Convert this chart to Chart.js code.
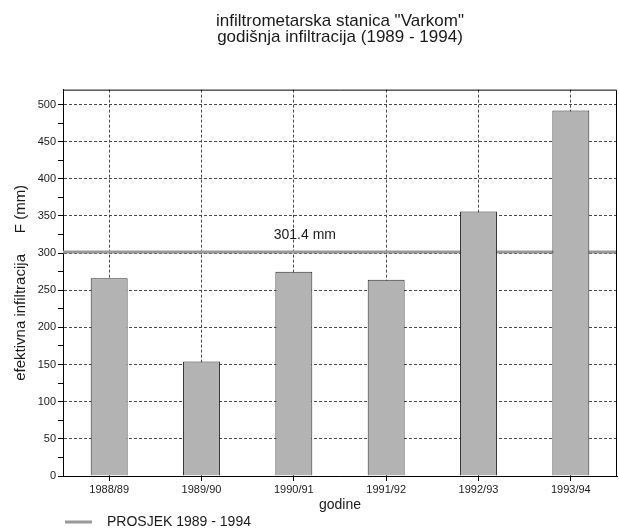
<!DOCTYPE html>
<html>
<head>
<meta charset="utf-8">
<script src="https://cdn.jsdelivr.net/npm/chart.js@4/dist/chart.umd.min.js"></script>
<style>
  html, body { margin: 0; padding: 0; background: #ffffff; }
  #wrap { width: 619px; height: 529px; }
</style>
</head>
<body>
<div id="wrap"><canvas id="infChart"></canvas></div>
<script>
// ------------------------------------------------------------
// Data — godišnja infiltracija, stanica "Varkom"
// ------------------------------------------------------------
var YEARS = ['1988/89', '1989/90', '1990/91', '1991/92', '1992/93', '1993/94'];
var INFILTRATION = [266, 154, 275, 264, 356, 492];
var MEAN = 301.4;
var MEAN_LABEL = '301.4 mm';
var LEGEND_LABEL = 'PROSJEK 1989 - 1994';
var TITLE_LINES = ['infiltrometarska stanica "Varkom"', 'godišnja infiltracija (1989 - 1994)'];

var COLORS = {
  text: '#1a1a1a',
  bar: '#b3b3b3',
  barBorder: '#2a2a2a',
  grid: '#4a4a4a',
  axis: '#000000',
  mean: '#999999'
};

var FONT = "'Liberation Sans', Arial, sans-serif";
Chart.defaults.font.family = FONT;
Chart.defaults.color = COLORS.text;

// ------------------------------------------------------------
// Plugins: frame, mean label, legend line
// ------------------------------------------------------------
var framePlugin = {
  id: 'frame',
  afterDraw: function(chart) {
    var a = chart.chartArea;
    var ctx = chart.ctx;
    ctx.save();
    ctx.strokeStyle = COLORS.axis;
    ctx.lineWidth = 1;
    ctx.beginPath();
    ctx.moveTo(a.left, a.top + 0.5);
    ctx.lineTo(a.right - 0.5, a.top + 0.5);
    ctx.lineTo(a.right - 0.5, a.bottom);
    ctx.stroke();
    ctx.restore();
  }
};

var meanLabelPlugin = {
  id: 'meanLabel',
  afterDatasetsDraw: function(chart) {
    var ctx = chart.ctx;
    var x = chart.scales.x.getPixelForValue(2) + 11;
    var y = chart.scales.y.getPixelForValue(MEAN) - 17;
    ctx.save();
    ctx.font = '14px ' + FONT;
    ctx.fillStyle = COLORS.text;
    ctx.textAlign = 'center';
    ctx.textBaseline = 'middle';
    ctx.fillText(MEAN_LABEL, x, y);
    ctx.restore();
  }
};

var legendPlugin = {
  id: 'meanLegend',
  afterDraw: function(chart) {
    var ctx = chart.ctx;
    var x0 = chart.chartArea.left + 2;
    var y = chart.height - 7;
    ctx.save();
    ctx.strokeStyle = COLORS.mean;
    ctx.lineWidth = 3;
    ctx.beginPath();
    ctx.moveTo(x0, y);
    ctx.lineTo(x0 + 27, y);
    ctx.stroke();
    ctx.font = '14px ' + FONT;
    ctx.fillStyle = COLORS.text;
    ctx.textAlign = 'left';
    ctx.textBaseline = 'middle';
    ctx.fillText(LEGEND_LABEL, x0 + 42, y);
    ctx.restore();
  }
};

// ------------------------------------------------------------
// Chart
// ------------------------------------------------------------
var ctx = document.getElementById('infChart').getContext('2d');
new Chart(ctx, {
  type: 'bar',
  data: {
    labels: YEARS,
    datasets: [
      {
        label: 'F (mm)',
        data: INFILTRATION,
        backgroundColor: COLORS.bar,
        borderColor: COLORS.barBorder,
        borderWidth: 1,
        grouped: false,
        barPercentage: 0.4,
        categoryPercentage: 1.0,
        order: 1
      },
      {
        type: 'line',
        label: LEGEND_LABEL,
        data: [{ x: 0, y: MEAN }, { x: 1, y: MEAN }],
        xAxisID: 'xMean',
        borderColor: COLORS.mean,
        borderWidth: 3,
        pointRadius: 0,
        order: 2
      }
    ]
  },
  options: {
    responsive: true,
    maintainAspectRatio: false,
    animation: false,
    layout: { padding: { left: 0, right: 2, top: 0, bottom: 15 } },
    plugins: {
      legend: { display: false },
      tooltip: { enabled: false },
      title: {
        display: true,
        text: TITLE_LINES,
        fullSize: false,
        color: COLORS.text,
        font: { size: 17, weight: 'normal', lineHeight: 0.96 },
        padding: { top: 13, bottom: 44 }
      }
    },
    scales: {
      x: {
        type: 'category',
        offset: true,
        afterFit: function(scale) { scale.height = 38; },
        grid: {
          offset: false,
          color: COLORS.grid,
          tickColor: COLORS.axis,
          tickLength: 5
        },
        border: { color: COLORS.axis, width: 1, dash: [3, 2] },
        ticks: { color: COLORS.text, font: { size: 11 }, padding: 2, maxRotation: 0 },
        title: {
          display: true,
          text: 'godine',
          color: COLORS.text,
          font: { size: 14 },
          padding: { top: 0, bottom: 0 }
        }
      },
      xMean: {
        type: 'linear',
        display: false,
        offset: false,
        min: 0,
        max: 1
      },
      y: {
        min: 0,
        max: 520,
        afterFit: function(scale) { scale.width = 63; },
        grid: {
          color: function(c) {
            return c.tick && c.tick.value % 50 === 0 ? COLORS.grid : 'rgba(0,0,0,0)';
          },
          tickColor: function(c) {
            return c.tick && c.tick.value % 25 === 0 ? COLORS.axis : 'rgba(0,0,0,0)';
          },
          tickLength: 5
        },
        border: { color: COLORS.axis, width: 1, dash: [3, 2] },
        ticks: {
          stepSize: 25,
          autoSkip: false,
          color: COLORS.text,
          font: { size: 11 },
          padding: 2,
          callback: function(v) { return v % 50 === 0 ? v : ''; }
        },
        title: {
          display: true,
          text: 'efektivna infiltracija     F (mm)',
          color: COLORS.text,
          font: { size: 15 },
          padding: { top: 12, bottom: 0 }
        }
      }
    }
  },
  plugins: [framePlugin, meanLabelPlugin, legendPlugin]
});
</script>
</body>
</html>
